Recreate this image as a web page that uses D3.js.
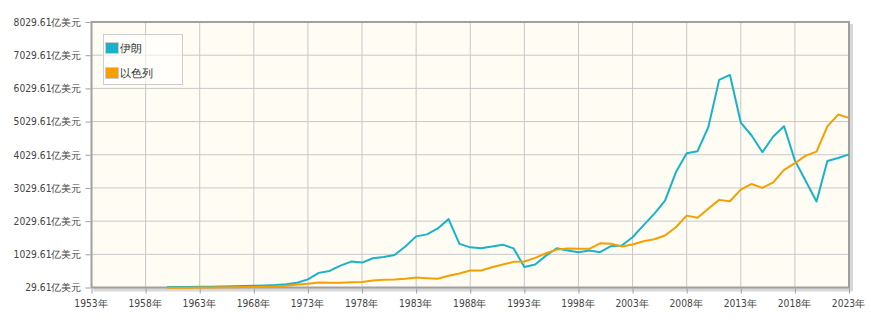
<!DOCTYPE html>
<html><head><meta charset="utf-8">
<script src="https://cdn.jsdelivr.net/npm/d3@7/dist/d3.min.js"></script>
<style>
body{margin:0;background:#fff;}
text{font-family:"DejaVu Sans Condensed","DejaVu Sans",sans-serif;font-stretch:condensed;}
</style></head>
<body><svg id="c" width="871" height="326"></svg>
<script>
const years = d3.range(1960, 2024);
const seriesNames = ["伊朗", "以色列"];
const seriesColors = ["#19b3c9", "#f5a000"];
const iran = [42,44,47,49,54,62,66,74,84,92,106,131,172,275,470,530,690,810,780,910,950,1010,1265,1570,1630,1810,2090,1345,1240,1212,1262,1320,1210,650,722,990,1212,1145,1095,1145,1095,1275,1295,1545,1900,2250,2650,3500,4075,4135,4860,6285,6435,5000,4610,4105,4580,4890,3860,3240,2620,3840,3930,4040];
const israel = [20,23,25,28,32,36,39,42,48,55,62,85,118,140,182,172,172,190,192,240,260,272,292,332,312,292,382,452,542,542,642,722,802,812,922,1062,1172,1202,1195,1195,1362,1345,1265,1325,1425,1485,1595,1845,2195,2130,2400,2670,2630,2980,3150,3030,3200,3575,3775,4005,4125,4885,5240,5140];
const yTicks = d3.range(0, 9).map(i => 29.61 + i * 1000);
const xTicks = d3.range(1953, 2024, 5);

const svg = d3.select("#c");
const x = d3.scaleLinear().domain([1953, 2023]).range([91.5, 849]);
const y = d3.scaleLinear().domain([29.61, 8029.61]).range([287.5, 22]);
const L = 91.5, R = 849, T = 22, B = 287.5;

// shadow
svg.append("rect").attr("x", L + 2).attr("y", T + 2).attr("width", R - L + 2).attr("height", B - T + 2)
  .attr("fill", "#d8d8d8");
svg.append("rect").attr("x", L).attr("y", T).attr("width", R - L).attr("height", B - T)
  .attr("fill", "#fffcf4");

// grid
svg.append("g").selectAll("line").data(yTicks).join("line")
  .attr("x1", L).attr("x2", R).attr("y1", d => y(d)).attr("y2", d => y(d))
  .attr("stroke", "#c8c8c8").attr("stroke-width", 1);
svg.append("g").selectAll("line").data(xTicks).join("line")
  .attr("y1", T).attr("y2", B).attr("x1", d => x(d)).attr("x2", d => x(d))
  .attr("stroke", "#c8c8c8").attr("stroke-width", 1);

// frame
svg.append("rect").attr("x", L).attr("y", T).attr("width", R - L).attr("height", B - T)
  .attr("fill", "none").attr("stroke", "#a0a0a0").attr("stroke-width", 2);

// axes
const yAxis = d3.axisLeft(y).tickValues(yTicks).tickSize(5).tickPadding(4)
  .tickFormat(d => d3.format(".2f")(d) + "亿美元");
const gy = svg.append("g").attr("transform", `translate(${L - 1},0)`).call(yAxis);
gy.select(".domain").remove();
gy.selectAll("line").attr("stroke", "#a0a0a0");
gy.selectAll("text").attr("fill", "#444").attr("font-size", 10.2);

const xAxis = d3.axisBottom(x).tickValues(xTicks).tickSize(5).tickPadding(6)
  .tickFormat(d => d + "年");
const gx = svg.append("g").attr("transform", `translate(0,${B + 1})`).call(xAxis);
gx.select(".domain").remove();
gx.selectAll("line").attr("stroke", "#a0a0a0");
gx.selectAll("text").attr("fill", "#444").attr("font-size", 10.2).attr("dx", -1);

// lines
const line = d3.line().x((d, i) => x(years[i])).y(d => y(d));
[iran, israel].forEach((s, k) => {
  svg.append("path").datum(s).attr("d", line).attr("fill", "none")
    .attr("stroke", seriesColors[k]).attr("stroke-width", 2).attr("stroke-linejoin", "round");
});

// legend
const lg = svg.append("g");
lg.append("rect").attr("x", 103.5).attr("y", 34.5).attr("width", 79).attr("height", 50)
  .attr("fill", "#ffffff").attr("fill-opacity", 0.6).attr("stroke", "#cccccc");
seriesNames.forEach((n, i) => {
  const yy = 42 + i * 25;
  lg.append("rect").attr("x", 105.5).attr("y", yy + 0.5).attr("width", 13).attr("height", 11)
    .attr("fill", seriesColors[i]).attr("stroke", "#cccccc");
  lg.append("text").attr("x", 120).attr("y", yy + 6).attr("dy", "0.35em")
    .attr("font-size", 10.5).attr("fill", "#333").text(n);
});
</script></body></html>
